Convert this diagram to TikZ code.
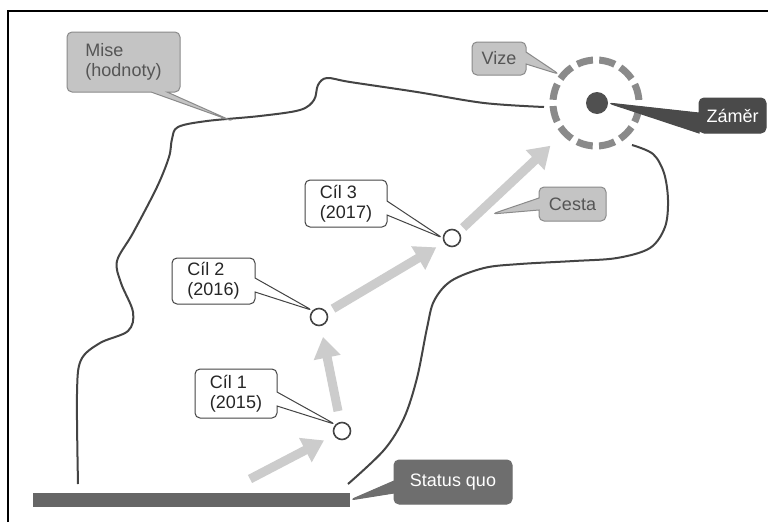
\documentclass[tikz,border=0pt]{standalone}
\usepackage{fontspec}
\setmainfont{Liberation Sans}
\usetikzlibrary{shapes.callouts,arrows.meta}
\definecolor{curvecol}{HTML}{444444}
\definecolor{boxgray}{HTML}{C4C4C4}
\definecolor{boxedge}{HTML}{8A8A8A}
\definecolor{boxtext}{HTML}{555555}
\definecolor{cilborder}{HTML}{444444}
\definecolor{arrowgray}{HTML}{CCCCCC}
\definecolor{ringgray}{HTML}{8A8A8A}
\definecolor{dotgray}{HTML}{505050}
\definecolor{zamergray}{HTML}{4A4A4A}
\definecolor{statusgray}{HTML}{6E6E6E}
\definecolor{bargray}{HTML}{666666}
\begin{document}
\begin{tikzpicture}[x=1pt,y=-1pt,
  lbl/.style={rectangle callout, rounded corners=5pt, align=left, inner sep=0pt,
    font=\fontsize{18}{20}\selectfont, line width=1pt},
  graybox/.style={lbl, fill=boxgray, draw=boxedge, text=boxtext},
  whitebox/.style={lbl, fill=white, draw=cilborder, text=black!85},
  zamerbox/.style={lbl, fill=zamergray, draw=zamergray, text=white},
  statusbox/.style={lbl, fill=statusgray, draw=statusgray, text=white},
  goal/.style={circle, draw=cilborder, fill=white, line width=1.6pt, minimum size=17pt, inner sep=0pt},
  outline/.style={draw=curvecol, line width=2pt},
  prog/.style={draw=arrowgray, line width=9pt, -{Triangle[width=26pt,length=21pt]}}
]
\useasboundingbox (0,0) rectangle (768,522);
\fill[white] (0,0) rectangle (768,522);
% frame
\draw[line width=2pt] (8,522) -- (8,11) -- (768,11);

% mission boundary (left/top)
\draw[outline] plot[smooth, tension=0.55] coordinates {
 (78,484) (77,394) (81,360) (100,343) (128,331) (133,312) (121,283) (117,261)
 (133,233) (157,187) (169,157) (172,139) (178,127) (207,121) (260,116)
 (300,110) (314,100) (318,85) (327,78) (350,82) (417,92) (484,103) (544,107)};
% right boundary
\draw[outline] plot[smooth, tension=0.55] coordinates {
 (632,145) (653,154) (664,173) (668,200) (665,227) (650,248) (617,258)
 (574,261) (520,264) (484,268) (451,281) (434,301) (427,328) (417,378)
 (404,418) (384,450) (348,484)};

% status quo bar
\node[fill=bargray, minimum width=317pt, minimum height=14pt, inner sep=0pt] (bar) at (191.5,500) {};

% vision ring and intent dot
\node[circle, draw=ringgray, line width=7pt, dash pattern=on 16.2pt off 6.3pt,
      dash phase=19.4pt, minimum size=86pt, inner sep=0pt] (ring) at (596,103) {};
\node[circle, fill=dotgray, minimum size=22pt, inner sep=0pt] (dot) at (597,103) {};

% goals
\node[goal] (c1) at (342,431) {};
\node[goal] (c2) at (319,317) {};
\node[goal] (c3) at (452,238) {};

% arrows
\coordinate (a0) at (250,479);
\draw[prog, shorten >=11pt] (a0) -- (c1);
\draw[prog, shorten <=11pt, shorten >=11pt] (c1) -- (c2);
\draw[prog, shorten <=7pt, shorten >=9pt] (c2) -- (c3);
\draw[prog, shorten <=6pt, shorten >=16pt] (c3) -- (ring);

% tips on curves
\coordinate (mtip) at (232,121);
\coordinate (ctip) at (492,214);

% labels
\node[graybox, minimum width=113pt, minimum height=60pt, callout pointer width=16pt,
      callout absolute pointer={(mtip)}] (mise) at (123.5,62) {Mise\\(hodnoty)};
\node[graybox, minimum width=54pt, minimum height=33pt, callout pointer width=12pt,
      callout absolute pointer={(ring.142)}] (vize) at (499,58.5) {Vize};
\node[zamerbox, minimum width=67pt, minimum height=35pt, callout pointer width=20pt,
      callout absolute pointer={(dot.east)}] (zamer) at (732.5,115.5) {Záměr};
\node[graybox, minimum width=67pt, minimum height=34pt, callout pointer width=12pt,
      callout absolute pointer={(ctip)}] (cesta) at (572.5,204) {Cesta};
\node[statusbox, minimum width=118pt, minimum height=44pt, callout pointer width=12pt,
      callout absolute pointer={(bar.east)}] (status) at (453,482) {Status quo};
\node[whitebox, minimum width=82pt, minimum height=49pt, callout pointer width=14pt,
      callout absolute pointer={(c1.north west)}] (l1) at (236,393.5) {Cíl 1\\(2015)};
\node[whitebox, minimum width=83pt, minimum height=46pt, callout pointer width=14pt,
      callout absolute pointer={(c2.north west)}] (l2) at (213.5,281) {Cíl 2\\(2016)};
\node[whitebox, minimum width=82pt, minimum height=47pt, callout pointer width=14pt,
      callout absolute pointer={(c3.west)}] (l3) at (346,203.5) {Cíl 3\\(2017)};
\end{tikzpicture}
\end{document}
